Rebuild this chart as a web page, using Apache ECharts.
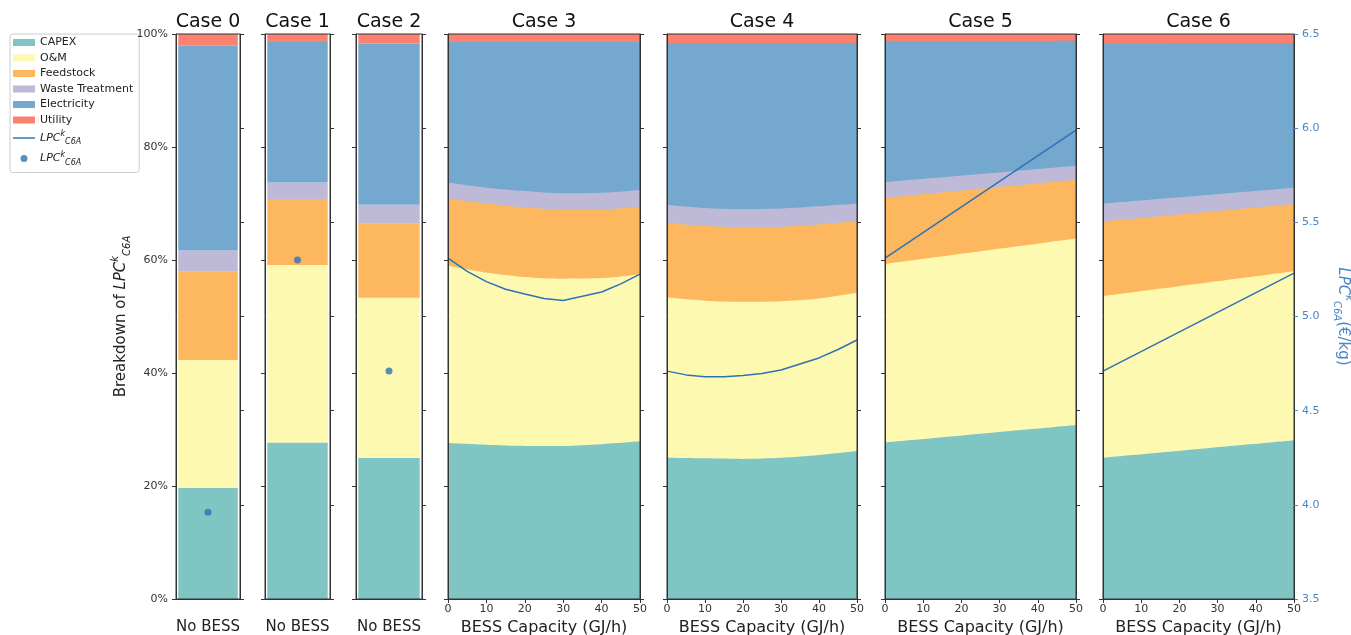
<!DOCTYPE html>
<html>
<head>
<meta charset="utf-8">
<title>LPC breakdown</title>
<script src="https://cdn.jsdelivr.net/npm/echarts@6/dist/echarts.min.js"></script>
<style>
  html, body { margin: 0; padding: 0; background: #fff; }
  #main { width: 1351px; height: 635px; }
</style>
</head>
<body>
<div id="main"></div>
<script>
// cost components (bottom to top) and their colours
var components = ['CAPEX', 'O&M', 'Feedstock', 'Waste Treatment', 'Electricity', 'Utility'];
var colors = ['#7fc5c3', '#fdf9b0', '#fdb75e', '#bdb9d7', '#74a8cf', '#fb8170'];
var caseTitles = ['Case 0', 'Case 1', 'Case 2', 'Case 3', 'Case 4', 'Case 5', 'Case 6'];

// cases without BESS: share of each component (%)
var noBessCat = ['No BESS'];
var case0Shares = [19.7, 22.6, 15.6, 3.8, 36.2, 2.1];
var case1Shares = [27.7, 31.4, 11.7, 2.9, 24.9, 1.4];
var case2Shares = [25.0, 28.3, 13.2, 3.3, 28.5, 1.7];
var noBessLpc = [3.96, 5.30, 4.71];

// cases with BESS: shares (%) per component at each capacity
var bessX = [0, 10, 20, 30, 40, 50];
var case3Shares = [
  [27.6, 27.3, 27.1, 27.1, 27.4, 27.9],
  [31.4, 30.5, 29.9, 29.6, 29.4, 29.6],
  [11.9, 12.2, 12.3, 12.3, 12.2, 11.9],
  [2.8, 2.8, 2.9, 2.8, 2.9, 3.0],
  [24.9, 25.8, 26.4, 26.8, 26.7, 26.2],
  [1.4, 1.4, 1.4, 1.4, 1.4, 1.4]
];
var case4Shares = [
  [25.0, 24.9, 24.8, 25.0, 25.5, 26.2],
  [28.4, 27.9, 27.8, 27.7, 27.7, 28.0],
  [13.2, 13.2, 13.2, 13.2, 13.1, 12.7],
  [3.2, 3.2, 3.2, 3.2, 3.2, 3.1],
  [28.6, 29.2, 29.4, 29.3, 28.9, 28.4],
  [1.6, 1.6, 1.6, 1.6, 1.6, 1.6]
];
var endsX = [0, 50];
var case5Shares = [[27.7, 30.8], [31.6, 33.0], [11.7, 10.4], [2.8, 2.5], [24.8, 22.1], [1.4, 1.2]];
var case6Shares = [[25.0, 28.1], [28.6, 29.9], [13.2, 11.9], [3.2, 2.9], [28.3, 25.6], [1.7, 1.6]];

// LPC (EUR/kg) curves
var lpcX = [0, 5, 10, 15, 20, 25, 30, 35, 40, 45, 50];
var case3Lpc = [5.31, 5.24, 5.185, 5.145, 5.12, 5.096, 5.085, 5.107, 5.13, 5.173, 5.225];
var case4Lpc = [4.71, 4.69, 4.68, 4.68, 4.687, 4.697, 4.716, 4.748, 4.78, 4.825, 4.875];
var case5Lpc = [5.31, 5.99];
var case6Lpc = [4.71, 5.23];

var lpcColor = '#2b74b3';
var rightColor = '#4a86c8';
var font = 'DejaVu Sans';
var lpcRich = {
  i: { fontStyle: 'italic', fontFamily: font, fontSize: 11, lineHeight: 16 },
  s: { fontStyle: 'italic', fontFamily: font, fontSize: 8, verticalAlign: 'top' },
  b: { fontStyle: 'italic', fontFamily: font, fontSize: 8, verticalAlign: 'bottom' }
};
var lpcLabel = '{i|LPC}{s|k}{b|C6A}';

function pairs(xs, ys) {
  return xs.map(function (x, j) { return [x, ys[j]]; });
}

// running total of the shares up to component k (top edge of that band)
function cumulative(shares, k) {
  return shares[0].map(function (_, j) {
    var s = 0;
    for (var m = 0; m <= k; m++) s += shares[m][j];
    return Math.round(s * 100) / 100;
  });
}

var gridBoxes = [[176, 64], [265, 65], [356, 66], [448, 192], [667, 190], [885, 191], [1103, 191]];
var barShares = [case0Shares, case1Shares, case2Shares];
var areaCases = [
  { x: bessX, shares: case3Shares, lpc: case3Lpc, lx: lpcX },
  { x: bessX, shares: case4Shares, lpc: case4Lpc, lx: lpcX },
  { x: endsX, shares: case5Shares, lpc: case5Lpc, lx: endsX },
  { x: endsX, shares: case6Shares, lpc: case6Lpc, lx: endsX }
];

var grids = [], xAxes = [], yAxes = [], series = [], titles = [];

gridBoxes.forEach(function (b, i) {
  var last = i === gridBoxes.length - 1;
  grids.push({
    left: b[0], width: b[1], top: 34, bottom: 36, outerBoundsMode: 'none',
    show: true, borderColor: '#333', borderWidth: 1, z: 10
  });
  titles.push({
    text: caseTitles[i], left: b[0] + b[1] / 2, top: 13, textAlign: 'center', padding: 0,
    textStyle: { fontSize: 19, fontWeight: 'normal', color: '#111', fontFamily: font }
  });

  if (i < 3) {
    xAxes.push({
      type: 'category', gridIndex: i, data: noBessCat, z: 10,
      axisLine: { onZero: false, lineStyle: { color: '#333' } },
      axisTick: { alignWithLabel: true, length: 4, lineStyle: { color: '#333' } },
      axisLabel: { fontSize: 15, margin: 21, color: '#222', fontFamily: font }
    });
  } else {
    xAxes.push({
      type: 'value', gridIndex: i, min: 0, max: 50, interval: 10, z: 10,
      name: 'BESS Capacity (GJ/h)', nameLocation: 'middle', nameGap: 20,
      nameTextStyle: { fontSize: 16, color: '#222', fontFamily: font },
      splitLine: { show: false },
      axisLine: { onZero: false, lineStyle: { color: '#333' } },
      axisTick: { length: 4, lineStyle: { color: '#333' } },
      axisLabel: { fontSize: 11, margin: 5, color: '#333', fontFamily: font }
    });
  }

  yAxes.push({
    type: 'value', gridIndex: i, position: 'left', min: 0, max: 100, interval: 20, z: 10,
    splitLine: { show: false },
    axisLine: { show: true, onZero: false, lineStyle: { color: '#333' } },
    axisTick: { show: true, length: 4, lineStyle: { color: '#333' } },
    axisLabel: { show: i === 0, formatter: '{value}%', fontSize: 11, color: '#333', fontFamily: font },
    name: i === 0 ? 'Breakdown of ' + lpcLabel : '',
    nameLocation: 'middle', nameGap: 44, nameRotate: 90,
    nameTextStyle: { fontSize: 15, color: '#222', fontFamily: font, rich: {
      i: { fontStyle: 'italic', fontSize: 15, fontFamily: font, lineHeight: 22 },
      s: { fontStyle: 'italic', fontSize: 10, fontFamily: font, verticalAlign: 'top' },
      b: { fontStyle: 'italic', fontSize: 10, fontFamily: font, verticalAlign: 'bottom' }
    } }
  });
  yAxes.push({
    type: 'value', gridIndex: i, position: 'right', min: 3.5, max: 6.5, interval: 0.5, z: 10,
    splitLine: { show: false },
    axisLine: { show: true, onZero: false, lineStyle: { color: '#333' } },
    axisTick: { show: true, length: 4, lineStyle: { color: last ? rightColor : '#333' } },
    axisLabel: { show: last, fontSize: 11, color: rightColor, fontFamily: font,
      formatter: function (v) { return v.toFixed(1); } },
    name: last ? lpcLabel + '(€/kg)' : '',
    nameLocation: 'middle', nameGap: 38, nameRotate: -90,
    nameTextStyle: { fontSize: 15, color: rightColor, fontFamily: font, rich: {
      i: { fontStyle: 'italic', fontSize: 15, color: rightColor, fontFamily: font, lineHeight: 22 },
      s: { fontStyle: 'italic', fontSize: 10, color: rightColor, fontFamily: font, verticalAlign: 'top' },
      b: { fontStyle: 'italic', fontSize: 10, color: rightColor, fontFamily: font, verticalAlign: 'bottom' }
    } }
  });

  if (i < 3) {
    components.forEach(function (c, k) {
      series.push({
        type: 'bar', name: c, stack: 'bar' + i, xAxisIndex: i, yAxisIndex: 2 * i,
        barWidth: '93%', itemStyle: { color: colors[k] },
        data: [barShares[i][k]]
      });
    });
    series.push({
      type: 'scatter', name: 'LPC dot', xAxisIndex: i, yAxisIndex: 2 * i + 1,
      symbolSize: 7, itemStyle: { color: lpcColor }, z: 4,
      data: [noBessLpc[i]]
    });
  } else {
    var ac = areaCases[i - 3];
    // draw the top band first so each lower band paints over it
    for (var k = components.length - 1; k >= 0; k--) {
      series.push({
        type: 'line', name: components[k], xAxisIndex: i, yAxisIndex: 2 * i,
        symbol: 'none', smooth: 0.3, lineStyle: { width: 0 },
        itemStyle: { color: colors[k] }, areaStyle: { color: colors[k], opacity: 1 },
        data: pairs(ac.x, cumulative(ac.shares, k))
      });
    }
    series.push({
      type: 'line', name: 'LPC line', xAxisIndex: i, yAxisIndex: 2 * i + 1,
      symbol: 'none', z: 4, itemStyle: { color: lpcColor },
      lineStyle: { color: lpcColor, width: 1.5 },
      data: pairs(ac.lx, ac.lpc)
    });
  }
});

var legendData = components.map(function (c) { return { name: c, icon: 'rect' }; });
legendData.push({ name: 'LPC line', icon: 'path://M0,0H30V2H0Z' });
legendData.push({ name: 'LPC dot', icon: 'circle' });

var chart = echarts.init(document.getElementById('main'));
chart.setOption({
  animation: false,
  title: titles,
  legend: {
    orient: 'vertical', left: 10, top: 34, data: legendData,
    itemWidth: 22, itemHeight: 7, itemGap: 4.5,
    padding: [3, 6, 6, 3], borderColor: '#ccc', borderWidth: 1, borderRadius: 3,
    textStyle: { fontSize: 11, color: '#222', fontFamily: font, rich: lpcRich },
    formatter: function (name) { return name.indexOf('LPC') === 0 ? lpcLabel : name; }
  },
  grid: grids,
  xAxis: xAxes,
  yAxis: yAxes,
  series: series
});
</script>
</body>
</html>
